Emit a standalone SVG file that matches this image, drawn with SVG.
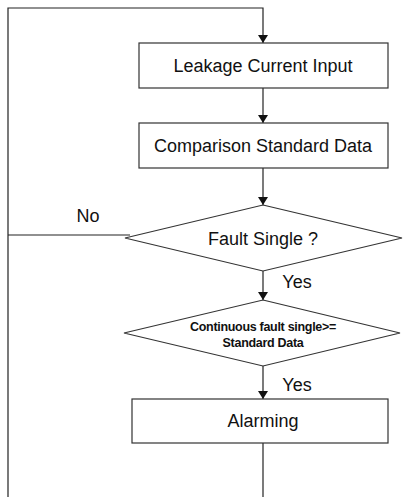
<svg xmlns="http://www.w3.org/2000/svg" width="403" height="497" viewBox="0 0 403 497">
<style>
.n{fill:#fff;stroke:#333;stroke-width:1.2}
.c{fill:none;stroke:#222;stroke-width:1.2}
.t{font-family:"Liberation Sans",Arial,sans-serif;font-size:18px;fill:#111;text-anchor:middle}
.s{font-family:"Liberation Sans",Arial,sans-serif;font-size:12.5px;font-weight:bold;fill:#111;text-anchor:middle;letter-spacing:-0.3px}
</style>
<defs>
<marker id="a" markerWidth="8" markerHeight="10" refX="8" refY="5" orient="auto" markerUnits="userSpaceOnUse">
<path d="M0,0 L8,5 L0,10 z" fill="#111"/>
</marker>
</defs>
<rect width="403" height="497" fill="#fff"/>
<g id="connectors">
<path class="c" d="M8,497 V8 H263 V43" marker-end="url(#a)"/>
<path class="c" d="M263,88 V123" marker-end="url(#a)"/>
<path class="c" d="M263,168 V205" marker-end="url(#a)"/>
<path class="c" d="M130,235 H8"/>
<path class="c" d="M263,271 V300" marker-end="url(#a)"/>
<path class="c" d="M263,366 V399" marker-end="url(#a)"/>
<path class="c" d="M263,443 V497"/>
<text class="t" x="88" y="222">No</text>
<text class="t" x="297" y="288">Yes</text>
<text class="t" x="297" y="391">Yes</text>
</g>
<g id="n1">
<rect class="n" x="139" y="43" width="249" height="45"/>
<text class="t" x="263" y="72">Leakage Current Input</text>
</g>
<g id="n2">
<rect class="n" x="139" y="123" width="249" height="45"/>
<text class="t" x="263" y="152">Comparison Standard Data</text>
</g>
<g id="d1">
<polygon class="n" points="263,205 402,238 263,271 125,238"/>
<text class="t" x="263" y="245">Fault Single ?</text>
</g>
<g id="d2">
<polygon class="n" points="263,300 400,333 263,366 124,333"/>
<text class="s" x="263" y="331">Continuous fault single&gt;=</text>
<text class="s" x="263" y="347">Standard Data</text>
</g>
<g id="n3">
<rect class="n" x="132" y="399" width="256" height="44"/>
<text class="t" x="263" y="427">Alarming</text>
</g>
</svg>
